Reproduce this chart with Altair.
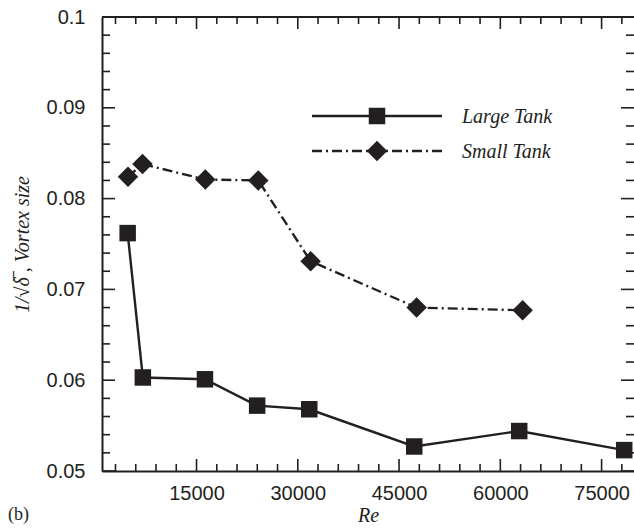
import altair as alt
import pandas as pd

# ---- data ----
re_large = [4800, 7050, 16250, 23980, 31700, 47250, 62800, 78350]
vs_large = [0.0762, 0.0603, 0.0601, 0.0572, 0.0568, 0.0527, 0.0544, 0.0523]
re_small = [4850, 7000, 16300, 24150, 31900, 47600, 63300]
vs_small = [0.0824, 0.0838, 0.0821, 0.0820, 0.0731, 0.0680, 0.0677]

x_major = [15000, 30000, 45000, 60000, 75000]
x_minor = [v for v in range(3000, 79000, 3000) if v % 15000 != 0]
y_major = [0.05, 0.06, 0.07, 0.08, 0.09, 0.1]
y_minor = [round(0.05 + 0.002 * i, 3) for i in range(1, 25) if i % 5 != 0]

C = "#231f20"
W, H = 532, 454

df_large = pd.DataFrame({"Re": re_large, "delta": vs_large})
df_small = pd.DataFrame({"Re": re_small, "delta": vs_small})
df_xmaj = pd.DataFrame({"Re": x_major})
df_xmin = pd.DataFrame({"Re": x_minor})
df_ymaj = pd.DataFrame({"delta": y_major})
df_ymin = pd.DataFrame({"delta": y_minor})
one = pd.DataFrame({"a": [0]})

xs = alt.Scale(domain=[1000, 79800], nice=False, zero=False)
ys = alt.Scale(domain=[0.05, 0.1], nice=False, zero=False)

xaxis = alt.Axis(values=x_major, format="d", ticks=False, tickSize=0, grid=False,
                 domainColor=C, domainWidth=2, labelFont="Liberation Sans",
                 labelFontSize=20, labelColor=C, labelPadding=12, labelFlush=False,
                 labelOverlap=False, title="Re", titleFont="Liberation Serif",
                 titleFontStyle="italic", titleFontWeight="normal", titleFontSize=20,
                 titleColor=C, titleY=44, titleBaseline="middle")
yaxis = alt.Axis(values=y_major, format=".2~f", ticks=False, tickSize=0, grid=False,
                 domainColor=C, domainWidth=2, labelFont="Liberation Sans",
                 labelFontSize=20, labelColor=C, labelPadding=17, labelFlush=False,
                 labelOverlap=False, title="1/\u221a\u03b4\u0305 , Vortex size",
                 titleFont="Liberation Serif", titleFontStyle="italic",
                 titleFontWeight="normal", titleFontSize=20, titleColor=C,
                 titleX=-80, titleY=H / 2, titleBaseline="middle", titleAngle=-90)

X = lambda: alt.X("Re:Q", scale=xs, axis=xaxis, title="Re")
Y = lambda: alt.Y("delta:Q", scale=ys, axis=yaxis, title="1/\u221a\u03b4\u0305 , Vortex size")

large_line = alt.Chart(df_large).mark_line(color=C, strokeWidth=2.4).encode(x=X(), y=Y())
large_pts = alt.Chart(df_large).mark_point(shape="square", filled=True, size=272,
                                           color=C, opacity=1, strokeWidth=0).encode(x=X(), y=Y())
small_line = alt.Chart(df_small).mark_line(color=C, strokeWidth=2.4,
                                           strokeDash=[10, 4, 2, 4]).encode(x=X(), y=Y())
small_pts = alt.Chart(df_small).mark_point(shape="diamond", filled=True, size=420,
                                           color=C, opacity=1, strokeWidth=0).encode(x=X(), y=Y())

def xticks(df, y0, y1):
    return alt.Chart(df).mark_rule(color=C, strokeWidth=1.6).encode(
        x=X(), y=alt.value(y0), y2=alt.value(y1))

def yticks(df, x0, x1):
    return alt.Chart(df).mark_rule(color=C, strokeWidth=1.6).encode(
        y=Y(), x=alt.value(x0), x2=alt.value(x1))

ticks = [
    xticks(df_xmaj, H, H - 12), xticks(df_xmin, H, H - 7),
    xticks(df_xmaj, 0, 12), xticks(df_xmin, 0, 7),
    yticks(df_ymaj, 0, 13), yticks(df_ymin, 0, 8),
    yticks(df_ymaj, W, W - 13), yticks(df_ymin, W, W - 8),
]
top_frame = alt.Chart(one).mark_rule(color=C, strokeWidth=2).encode(
    x=alt.value(0), x2=alt.value(W), y=alt.value(0))

# legend
leg_large_line = alt.Chart(one).mark_rule(color=C, strokeWidth=2.4).encode(
    x=alt.value(210), x2=alt.value(340), y=alt.value(99))
leg_small_line = alt.Chart(one).mark_rule(color=C, strokeWidth=2.4,
                                          strokeDash=[10, 4, 2, 4]).encode(
    x=alt.value(210), x2=alt.value(340), y=alt.value(134))
leg_large_pt = alt.Chart(one).mark_point(shape="square", filled=True, size=272,
                                         color=C, opacity=1, strokeWidth=0).encode(
    x=alt.value(275), y=alt.value(99))
leg_small_pt = alt.Chart(one).mark_point(shape="diamond", filled=True, size=420,
                                         color=C, opacity=1, strokeWidth=0).encode(
    x=alt.value(275), y=alt.value(134))
txt = dict(align="left", baseline="middle", font="Liberation Serif",
           fontStyle="italic", fontSize=20, color=C)
leg_large_txt = alt.Chart(one).mark_text(**txt).encode(
    x=alt.value(360), y=alt.value(100), text=alt.value("Large Tank"))
leg_small_txt = alt.Chart(one).mark_text(**txt).encode(
    x=alt.value(360), y=alt.value(135), text=alt.value("Small Tank"))
panel = alt.Chart(one).mark_text(align="left", baseline="middle",
                                 font="Liberation Serif", fontSize=18, color=C).encode(
    x=alt.value(-94), y=alt.value(498), text=alt.value("(b)"))

chart = alt.layer(
    large_line, small_line, *ticks, top_frame, large_pts, small_pts,
    leg_large_line, leg_small_line, leg_large_pt, leg_small_pt,
    leg_large_txt, leg_small_txt, panel,
).properties(
    width=W, height=H,
    autosize=alt.AutoSizeParams(type="none"),
    padding={"left": 102, "top": 17, "right": 0, "bottom": 58},
    background="white",
).configure_view(stroke=None)

chart.save("out.html", embed_options={"renderer": "svg", "actions": False})
